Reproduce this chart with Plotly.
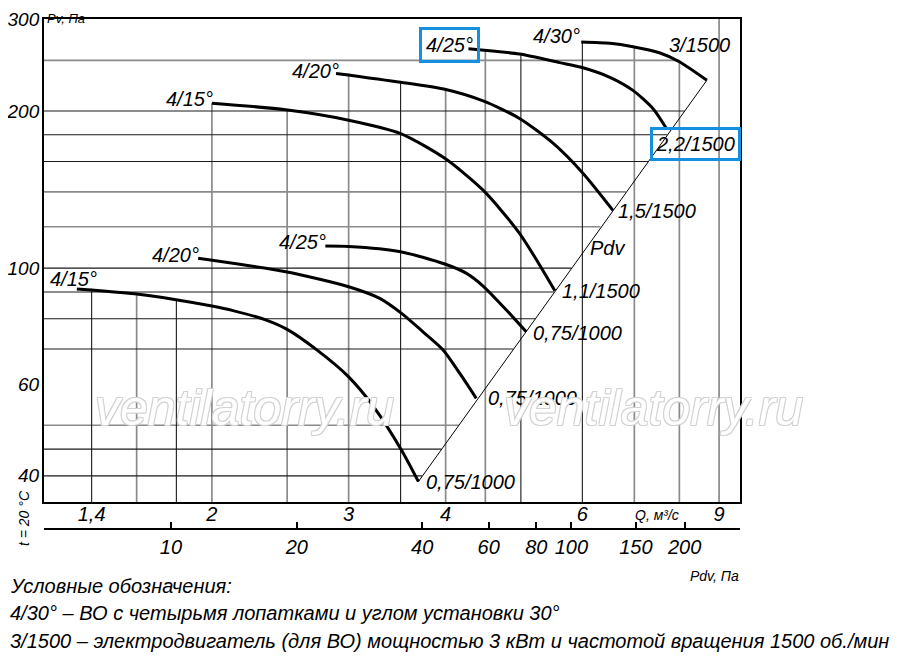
import numpy as np
import plotly.graph_objects as go

# ---- values (Q in m3/s, Pv / Pdv in Pa) ----
# upper family (1500 rpm motors), blade angle 15..30 deg
q_415_hi = [2.0, 2.49, 3.0, 3.5, 3.99, 4.47, 4.98, 5.53]
pv_415_hi = [207, 201, 192, 181, 162.3, 141, 116.6, 90.5]
q_420_hi = [2.89, 3.5, 3.99, 4.47, 4.98, 5.5, 6.01, 6.57]
pv_420_hi = [236, 227, 220, 209, 193.5, 173.5, 152, 129]
q_425_hi = [4.28, 4.98, 5.61, 5.98, 6.51, 6.97, 7.40, 7.71]
pv_425_hi = [263, 257, 247.5, 242.5, 232, 219, 202, 184.5]
q_430 = [5.98, 6.51, 6.97, 7.54, 8.0, 8.68]
pv_430 = [271, 269.5, 265.5, 258.5, 248.5, 229]
# lower family (0,75 kW / 1000 rpm)
q_415_lo = [1.34, 1.59, 1.79, 2.0, 2.13, 2.35, 2.5, 2.73, 3.0, 3.23, 3.51, 3.69]
pv_415_lo = [91.2, 89.3, 87.1, 84.6, 82.9, 79.5, 76.3, 69.7, 61.9, 54.3, 44.8, 39.0]
q_420_lo = [1.92, 2.49, 3.0, 3.29, 3.51, 3.74, 3.97, 4.17, 4.38]
pv_420_lo = [104.4, 98.4, 92.1, 87.5, 81.9, 75.5, 69.7, 62.9, 56.3]
q_425_lo = [2.8, 3.0, 3.5, 3.99, 4.25, 4.47, 4.79, 5.08]
pv_425_lo = [110.2, 110, 107.5, 101.8, 97.8, 92.4, 83.1, 75.5]

# Pdv line through the curve ends
q_pdv = [3.69, 8.68]
pv_pdv = [39.0, 229]

blade_labels = ["4/15°", "4/20°", "4/25°", "4/30°", "4/15°", "4/20°", "4/25°"]
motor_labels = ["1,1/1500", "1,5/1500", "2,2/1500", "3/1500",
                "0,75/1000", "0,75/1000", "0,75/1000"]

# grid: horizontal levels (Pv) with their right ends (Q), vertical levels (Q) with tops (Pv)
h_levels = [250, 200, 180, 160, 140, 120, 100, 90, 80, 70, 50, 45, 40]
h_ends = [8.0, 8.13, 7.72, 7.29, 6.83, 6.33, 5.81, 5.52, 5.22, 4.89, 4.16, 3.95, 3.73]
h_dark = [0, 1, 1, 1, 0, 0, 1, 1, 1, 1, 0, 1, 1]
v_levels = [1.4, 1.6, 1.8, 2, 2.5, 3, 3.5, 4, 4.5, 5, 6, 7, 8, 9]
v_tops = [91.3, 89.3, 87.1, 207, 201, 236, 227, 220, 262.5, 256.5, 271, 265.5, 250, 300]
v_dark = [1, 0, 1, 0, 0, 0, 1, 0, 0, 1, 1, 0, 0, 0]

q_ticks = [1.4, 2, 3, 4, 6, 9]
q_ticktext = ["1,4", "2", "3", "4", "6", "9"]
pv_ticks = [40, 60, 100, 200, 300]
pdv_ticks = [10, 20, 40, 60, 80, 100, 150, 200]
pdv_tick_q = [1.771, 2.573, 3.731, 4.545, 5.235, 5.807, 7.033, 8.125]

Q_MIN, Q_MAX = 1.2156, 9.576
PV_MIN, PV_MAX = 35.64, 300

W, H = 900, 658
OFF = 8  # page body margin: the figure is drawn 8 px right/down of the window corner
L, R, T, B = 36, 167.5, 11, 137
FONT = "Liberation Sans"
BLUE = "#1590e0"


def px(x):
    """window x pixel -> paper x"""
    return (x - OFF - L) / (W - L - R)


def py(y):
    """window y pixel -> paper y"""
    return (H - B - (y - OFF)) / (H - T - B)


def grid_trace(dark):
    xs, ys = [], []
    for lev, end, d in zip(h_levels, h_ends, h_dark):
        if d == dark:
            xs += [Q_MIN, end, None]
            ys += [lev, lev, None]
    for lev, top, d in zip(v_levels, v_tops, v_dark):
        if d == dark:
            xs += [lev, lev, None]
            ys += [PV_MIN, top, None]
    return go.Scatter(
        x=xs, y=ys, mode="lines", hoverinfo="skip",
        line={"color": "#1a1a1a" if dark else "#8a8a8a", "width": 1.1 if dark else 1.7},
    )


fig = go.Figure()
fig.add_trace(grid_trace(0))
fig.add_trace(grid_trace(1))

curves = [
    (q_415_hi, pv_415_hi), (q_420_hi, pv_420_hi), (q_425_hi, pv_425_hi), (q_430, pv_430),
    (q_415_lo, pv_415_lo), (q_420_lo, pv_420_lo), (q_425_lo, pv_425_lo),
]
for q, pv in curves:
    fig.add_trace(go.Scatter(
        x=q, y=pv, mode="lines", hoverinfo="skip",
        line={"color": "black", "width": 3, "shape": "spline", "smoothing": 0.7},
    ))

fig.add_trace(go.Scatter(
    x=q_pdv, y=pv_pdv, xaxis="x2", mode="lines", hoverinfo="skip",
    line={"color": "black", "width": 1},
))

lab_font = {"family": FONT, "size": 20, "color": "black", "style": "italic"}
small_font = {"family": FONT, "size": 14, "color": "black", "style": "italic"}

# start-of-curve labels: (xanchor, xshift, yshift, boxed)
start_pos = [("right", 3, 4, False), ("right", 5, 2, False), ("center", -19, 4, True),
             ("right", 1, 6, False), ("left", -29, 10, False), ("right", 3, 3, False),
             ("right", 3, 4, False)]
end_pos = [("left", 5, 0, False), ("left", 3, -1, False), ("center", 29, -15, True),
           ("center", -7, 35, False), ("left", 6, 0, False), ("left", 10, 0, False),
           ("left", 5, -1, False)]

annotations = []
for (q, pv), text, (xa, xs, ys, boxed) in zip(curves, blade_labels, start_pos):
    ann = dict(x=np.log10(q[0]), y=np.log10(pv[0]), xref="x", yref="y", text=text,
               showarrow=False, xanchor=xa, yanchor="middle", xshift=xs, yshift=ys,
               font=lab_font)
    if boxed:
        ann.update(bordercolor=BLUE, borderwidth=3, borderpad=4)
    annotations.append(ann)
for (q, pv), text, (xa, xs, ys, boxed) in zip(curves, motor_labels, end_pos):
    ann = dict(x=np.log10(q[-1]), y=np.log10(pv[-1]), xref="x", yref="y", text=text,
               showarrow=False, xanchor=xa, yanchor="middle", xshift=xs, yshift=ys,
               font=lab_font)
    if boxed:
        ann.update(bordercolor=BLUE, borderwidth=3, borderpad=3)
    annotations.append(ann)


def paper_text(x, y, text, font, xanchor="center", **kw):
    return dict(x=px(x), y=py(y), xref="paper", yref="paper", text=text,
                showarrow=False, xanchor=xanchor, yanchor="middle", font=font, **kw)


# Pdv line caption
annotations.append(paper_text(608, 248, "Pdv", lab_font))

# watermark
wm_font = {"family": FONT, "size": 50, "color": "white", "style": "italic",
           "shadow": "1px 1px 0 #d2d2d2, -1px -1px 0 #d2d2d2, 1px -1px 0 #d2d2d2, -1px 1px 0 #d2d2d2"}
for cx in (245, 654):
    annotations.append(paper_text(cx, 408, "ventilatorry.ru", wm_font))

# axis captions
annotations += [
    paper_text(66, 18, "Pv, Па", {**small_font, "size": 13}),
    paper_text(657, 515, "Q, м³/с", small_font),
    paper_text(715, 576, "Pdv, Па", small_font),
    paper_text(24, 518, "t = 20 °C", small_font, textangle=-90),
]

legend_lines = [
    "Условные обозначения:",
    "4/30° – ВО с четырьмя лопатками и углом установки 30°",
    "3/1500 – электродвигатель (для ВО) мощностью 3 кВт и частотой вращения 1500 об./мин",
]
legend_font = {"family": FONT, "size": 20, "color": "black", "style": "italic"}
for text, ly in zip(legend_lines, (586, 613, 641)):
    annotations.append(paper_text(8, ly, text, legend_font, xanchor="left"))

fig.update_layout(
    width=W, height=H,
    margin={"l": L, "r": R, "t": T, "b": B},
    paper_bgcolor="white", plot_bgcolor="white",
    showlegend=False,
    annotations=annotations,
    xaxis={
        "type": "log", "range": [np.log10(Q_MIN), np.log10(Q_MAX)],
        "tickvals": q_ticks, "ticktext": q_ticktext, "ticks": "",
        "showgrid": False, "zeroline": False, "automargin": False,
        "showline": True, "mirror": True, "linecolor": "black", "linewidth": 2,
        "tickfont": lab_font, "ticklabelstandoff": -7,
    },
    xaxis2={
        "type": "log", "range": [np.log10(Q_MIN), np.log10(Q_MAX)],
        "overlaying": "x", "anchor": "free", "position": 0, "automargin": False,
        "tickvals": pdv_tick_q, "ticktext": [str(v) for v in pdv_ticks],
        "ticks": "inside", "ticklen": 6, "tickwidth": 1.5, "tickcolor": "black",
        "showgrid": False, "zeroline": False,
        "showline": True, "linecolor": "black", "linewidth": 2,
        "tickfont": lab_font,
    },
    yaxis={
        "type": "log", "range": [np.log10(PV_MIN), np.log10(PV_MAX)],
        "domain": [py(502), 1], "automargin": False,
        "tickvals": pv_ticks, "ticks": "",
        "showgrid": False, "zeroline": False,
        "showline": True, "mirror": True, "linecolor": "black", "linewidth": 2,
        "tickfont": {**lab_font, "size": 19}, "ticklabelstandoff": -1,
    },
)

fig.write_html("out.html")
